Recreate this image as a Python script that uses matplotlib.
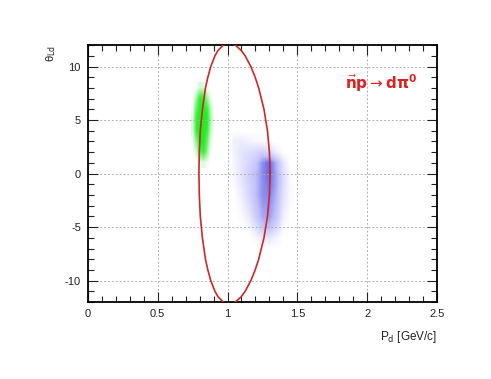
import numpy as np
import matplotlib
matplotlib.use('Agg')
import matplotlib.pyplot as plt
from matplotlib.colors import LinearSegmentedColormap
from matplotlib.ticker import MultipleLocator

plt.rcParams['font.family'] = ['Liberation Sans', 'DejaVu Sans']
plt.rcParams['axes.unicode_minus'] = False

# kinematic curve: angle [deg] and the two momentum branches
theta_pts = [0, 2, 4, 6, 8, 9, 10, 11, 11.5, 12, 12.19]
p_high = [1.305, 1.300, 1.286, 1.261, 1.223, 1.198, 1.167, 1.126, 1.098, 1.056, 1.011]
p_low = [0.795, 0.798, 0.805, 0.820, 0.842, 0.859, 0.880, 0.910, 0.932, 0.969, 1.011]

# d pi0 events (green), density on a grid
green_x = [0.75, 0.775, 0.80, 0.825, 0.85, 0.875, 0.90]
green_y = [1, 2, 3, 4, 5, 6, 7, 8]
green_dens = [
    [0, 0, 0.05, 0.15, 0.05, 0, 0],
    [0, 0.2, 0.7, 0.9, 0.5, 0, 0],
    [0.05, 0.5, 1, 1, 0.7, 0.1, 0],
    [0.15, 0.9, 1, 1, 0.9, 0.25, 0],
    [0.15, 0.9, 1, 1, 1, 0.4, 0],
    [0.05, 0.7, 1, 1, 0.9, 0.3, 0],
    [0, 0.4, 0.95, 0.9, 0.45, 0.05, 0],
    [0, 0.02, 0.2, 0.15, 0.02, 0, 0],
]

# background events (blue)
blue_x = [1.00, 1.05, 1.10, 1.15, 1.20, 1.25, 1.30, 1.35, 1.40, 1.45, 1.50]
blue_y = [-7, -6, -5, -4, -3, -2, -1, 0, 1, 2, 3, 4]
blue_dens = [
    [0, 0, 0, 0, 0, 0, 0, 0, 0, 0, 0],
    [0, 0, 0, 0, 0.05, 0.15, 0.18, 0.08, 0, 0, 0],
    [0, 0, 0, 0.05, 0.22, 0.45, 0.5, 0.3, 0.05, 0, 0],
    [0, 0, 0.03, 0.15, 0.38, 0.6, 0.65, 0.45, 0.12, 0, 0],
    [0, 0, 0.08, 0.22, 0.45, 0.65, 0.7, 0.5, 0.18, 0.03, 0],
    [0, 0, 0.12, 0.3, 0.5, 0.7, 0.75, 0.55, 0.22, 0.04, 0],
    [0, 0.04, 0.18, 0.32, 0.5, 0.7, 0.8, 0.6, 0.25, 0.04, 0],
    [0, 0.07, 0.2, 0.35, 0.5, 0.72, 0.85, 0.6, 0.25, 0.03, 0],
    [0, 0.08, 0.2, 0.3, 0.42, 0.7, 0.85, 0.55, 0.18, 0, 0],
    [0, 0.1, 0.2, 0.25, 0.3, 0.35, 0.3, 0.12, 0, 0, 0],
    [0, 0.1, 0.14, 0.1, 0.06, 0.03, 0, 0, 0, 0, 0],
    [0, 0, 0, 0, 0, 0, 0, 0, 0, 0, 0],
]

fig = plt.figure(figsize=(4.91, 3.79), dpi=100)
ax = fig.add_axes([0.179, 0.203, 0.711, 0.678])

green_cmap = LinearSegmentedColormap.from_list('g', [(0.1, 0.9, 0.1, 0.0), (0.13, 0.93, 0.13, 1.0)])
blue_cmap = LinearSegmentedColormap.from_list('b', [(0.4, 0.4, 0.95, 0.0), (0.45, 0.45, 0.95, 0.45), (0.2, 0.2, 0.85, 1.0)])


def density_image(ax, xs, ys, dens, cmap):
    dx = xs[1] - xs[0]
    dy = ys[1] - ys[0]
    ext = [xs[0] - dx / 2, xs[-1] + dx / 2, ys[0] - dy / 2, ys[-1] + dy / 2]
    ax.imshow(np.array(dens), origin='lower', extent=ext, aspect='auto',
              interpolation='bilinear', cmap=cmap, vmin=0, vmax=1, zorder=1)


density_image(ax, green_x, green_y, green_dens, green_cmap)
density_image(ax, blue_x, blue_y, blue_dens, blue_cmap)

# closed curve: upper half then mirrored lower half
th = np.array(theta_pts)
ph = np.array(p_high)
pl = np.array(p_low)
curve_p = np.concatenate([ph, pl[::-1], pl[1:], ph[::-1]])
curve_t = np.concatenate([th, th[::-1], -th[1:], -th[::-1]])
ax.plot(curve_p, curve_t, color='#cc2828', lw=1.2, zorder=3)

ax.set_xlim(0, 2.5)
ax.set_ylim(-12, 12)
ax.xaxis.set_major_locator(MultipleLocator(0.5))
ax.xaxis.set_minor_locator(MultipleLocator(0.1))
ax.yaxis.set_major_locator(MultipleLocator(5))
ax.yaxis.set_minor_locator(MultipleLocator(1))
ax.xaxis.set_major_formatter(plt.FuncFormatter(lambda v, pos: '%g' % v))

ax.tick_params(which='both', direction='in', top=True, right=True, labelsize=8, colors='#222222')
ax.tick_params(which='major', length=7, width=0.8, pad=5)
ax.tick_params(which='minor', length=4, width=0.8)
for s in ax.spines.values():
    s.set_linewidth(1.3)

ax.grid(True, which='major', color='#b0b0b0', ls=(0, (2, 2)), lw=0.7)

ax.text(1.0, -0.105, r'P$_{\rm d}$ [GeV/c]', transform=ax.transAxes, ha='right', va='top', fontsize=8.5, color='#222222')
ax.text(-0.105, 1.0, r'θ$_{\rm Ld}$', transform=ax.transAxes, rotation=90, ha='center', va='top', fontsize=8, color='#222222')

ax.text(1.84, 8.4, r'$\vec{\mathbf{n}}\mathbf{p} \rightarrow \mathbf{d}\mathbf{\pi}^{\mathbf{0}}$', color='#e02020', fontsize=11, ha='left', va='center')

fig.savefig('out.png', dpi=100)
